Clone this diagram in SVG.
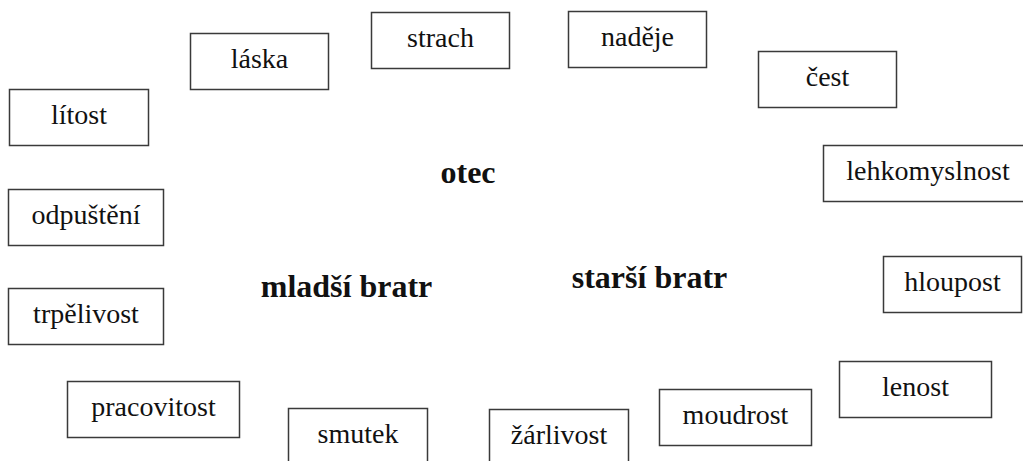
<svg xmlns="http://www.w3.org/2000/svg" width="1023" height="461" viewBox="0 0 1023 461">
<style>
.box rect{fill:#fff;stroke:#3a3a3a;stroke-width:1.5}
.t{font-family:'Liberation Serif','Times New Roman',Tinos,'Noto Serif','DejaVu Serif',serif;font-size:28px;fill:#111;text-anchor:middle}
.lbl{font-family:'Liberation Serif','Times New Roman',Tinos,'Noto Serif','DejaVu Serif',serif;font-size:32px;font-weight:bold;fill:#111;text-anchor:middle}
</style>
<rect width="1023" height="461" fill="#fff"/>
<g id="connectors"></g>
<g id="n-litost" class="box"><rect x="9.5" y="89.5" width="139" height="56"/><text class="t" x="79" y="123.5">lítost</text></g>
<g id="n-laska" class="box"><rect x="190.5" y="33.5" width="138" height="56"/><text class="t" x="259.5" y="68">láska</text></g>
<g id="n-strach" class="box"><rect x="371.5" y="12.5" width="138" height="56"/><text class="t" x="440.5" y="46.5">strach</text></g>
<g id="n-nadeje" class="box"><rect x="568.5" y="11.5" width="138" height="56"/><text class="t" x="637.5" y="46">naděje</text></g>
<g id="n-cest" class="box"><rect x="758.5" y="51.5" width="138" height="56"/><text class="t" x="827.5" y="86">čest</text></g>
<g id="n-lehkomyslnost" class="box"><rect x="823.5" y="145.5" width="210" height="56"/><text class="t" x="928" y="180">lehkomyslnost</text></g>
<g id="n-odpusteni" class="box"><rect x="8.5" y="189.5" width="155" height="56"/><text class="t" x="86" y="224">odpuštění</text></g>
<g id="n-trpelivost" class="box"><rect x="8.5" y="288.5" width="155" height="56"/><text class="t" x="86" y="323">trpělivost</text></g>
<g id="n-hloupost" class="box"><rect x="883.5" y="256.5" width="138" height="56"/><text class="t" x="952.5" y="291">hloupost</text></g>
<g id="n-pracovitost" class="box"><rect x="67.5" y="381.5" width="172" height="56"/><text class="t" x="153.5" y="416">pracovitost</text></g>
<g id="n-smutek" class="box"><rect x="288.5" y="408.5" width="139" height="60"/><text class="t" x="358" y="443">smutek</text></g>
<g id="n-zarlivost" class="box"><rect x="489.5" y="409.5" width="139" height="60"/><text class="t" x="559" y="444">žárlivost</text></g>
<g id="n-moudrost" class="box"><rect x="659.5" y="389.5" width="152" height="56"/><text class="t" x="735.5" y="424">moudrost</text></g>
<g id="n-lenost" class="box"><rect x="839.5" y="361.5" width="152" height="56"/><text class="t" x="915.5" y="396">lenost</text></g>
<g id="n-otec"><text class="lbl" x="468" y="183">otec</text></g>
<g id="n-mladsi"><text class="lbl" x="346.5" y="297">mladší bratr</text></g>
<g id="n-starsi"><text class="lbl" x="649.5" y="288">starší bratr</text></g>
</svg>
